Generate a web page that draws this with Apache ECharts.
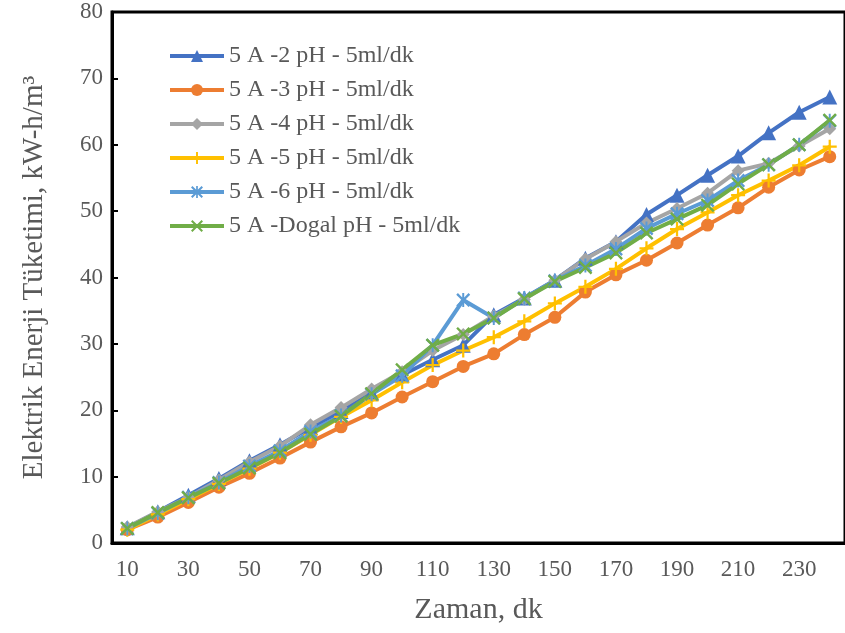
<!DOCTYPE html>
<html>
<head>
<meta charset="utf-8">
<script src="https://cdn.jsdelivr.net/npm/echarts@6/dist/echarts.min.js"></script>
<style>html,body{margin:0;padding:0;background:#fff}#c{width:845px;height:633px}</style>
</head>
<body>
<div id="c"></div>
<script>
const categories = ['10','20','30','40','50','60','70','80','90','100','110','120','130','140','150','160','170','180','190','200','210','220','230','240'];
const seriesNames = ['5 A -2 pH - 5ml/dk','5 A -3 pH - 5ml/dk','5 A -4 pH - 5ml/dk','5 A -5 pH - 5ml/dk','5 A -6 pH - 5ml/dk','5 A -Dogal pH - 5ml/dk'];
const ph2 = [2.3,4.7,7.2,9.7,12.4,14.8,17.4,19.8,22.6,25.3,27.6,29.8,34.4,36.9,39.6,42.9,45.4,49.5,52.4,55.4,58.3,61.8,64.9,67.2];
const ph3 = [2.0,3.9,6.1,8.4,10.5,12.8,15.2,17.5,19.6,22.0,24.3,26.6,28.5,31.4,34.0,37.8,40.4,42.6,45.2,47.9,50.5,53.6,56.2,58.2];
const ph4 = [2.4,4.7,6.9,9.5,12.2,14.6,17.8,20.4,23.2,25.8,29.0,31.4,34.2,36.7,39.6,42.8,45.4,48.2,50.4,52.7,56.1,57.2,59.8,62.4];
const ph5 = [2.0,4.3,6.6,8.9,11.2,13.6,16.3,19.0,21.5,24.2,26.8,29.0,31.0,33.4,36.1,38.6,41.3,44.4,47.3,49.8,52.4,54.6,56.9,59.7];
const ph6 = [2.2,4.5,6.9,9.1,11.6,13.9,16.8,19.2,22.4,25.2,29.8,36.6,33.9,36.9,39.5,41.8,44.3,47.4,49.6,51.6,54.6,57.0,60.0,63.6];
const phDogal = [2.2,4.6,6.8,9.0,11.3,13.6,16.4,19.1,22.5,26.1,29.8,31.5,33.9,36.8,39.4,41.5,43.7,46.7,48.8,50.9,54.1,57.0,60.0,63.7];
const yTicks = [0,10,20,30,40,50,60,70,80];

const colors = ['#4472C4','#ED7D31','#A5A5A5','#FFC000','#5B9BD5','#70AD47'];
const plusPath = 'path://M4.2,0H5.8V4.2H10V5.8H5.8V10H4.2V5.8H0V4.2H4.2Z';
const xPath = 'path://M0,1.2L1.2,0L5,3.8L8.8,0L10,1.2L6.2,5L10,8.8L8.8,10L5,6.2L1.2,10L0,8.8L3.8,5Z';
const starPath = 'path://M0,1.2L1.2,0L5,3.8L8.8,0L10,1.2L6.2,5L10,8.8L8.8,10L5,6.2L1.2,10L0,8.8L3.8,5ZM4.3,0H5.7V10H4.3Z';
const symbols = ['triangle','circle','diamond',plusPath,starPath,xPath];
const sizes = [15,13,13,14,14,14];
const datasets = [ph2,ph3,ph4,ph5,ph6,phDogal];
const font = '"Liberation Serif","Times New Roman",serif';

const chart = echarts.init(document.getElementById('c'));
chart.setOption({
  animation:false,
  backgroundColor:'#ffffff',
  color:colors,
  grid:{left:112,top:12,width:737,bottom:90,show:true,borderColor:'#000',borderWidth:3,backgroundColor:'transparent'},
  legend:{
    orient:'vertical',left:163,top:39,itemWidth:54,itemHeight:15,itemGap:10,
    lineStyle:{width:4},
    textStyle:{fontFamily:font,fontSize:24,color:'#595959'},
    data:seriesNames
  },
  xAxis:{
    type:'category',data:categories,boundaryGap:true,
    name:'Zaman, dk',nameLocation:'middle',nameGap:52,
    nameTextStyle:{fontFamily:font,fontSize:30,color:'#595959'},
    axisLine:{lineStyle:{color:'#000',width:3}},
    axisTick:{inside:true,length:6,interval:0,lineStyle:{color:'#000',width:2}},
    axisLabel:{interval:1,margin:15,fontFamily:font,fontSize:23,color:'#595959'},
    splitLine:{show:false}
  },
  yAxis:{
    type:'value',min:yTicks[0],max:yTicks[yTicks.length-1],interval:10,
    name:'Elektrik Enerji Tüketimi, kW-h/m³',nameLocation:'middle',nameGap:63,
    nameTextStyle:{fontFamily:font,fontSize:29,color:'#595959'},
    axisLine:{show:true,lineStyle:{color:'#000',width:3}},
    axisTick:{show:true,inside:true,length:6,lineStyle:{color:'#000',width:2}},
    axisLabel:{margin:9,fontFamily:font,fontSize:23,color:'#595959'},
    splitLine:{show:false}
  },
  series:datasets.map((d,i)=>({
    name:seriesNames[i],type:'line',data:d,
    symbol:symbols[i],symbolSize:sizes[i],showAllSymbol:true,
    lineStyle:{width:4,color:colors[i]},
    itemStyle:{color:colors[i],borderWidth:0}
  }))
});
</script>
</body>
</html>
